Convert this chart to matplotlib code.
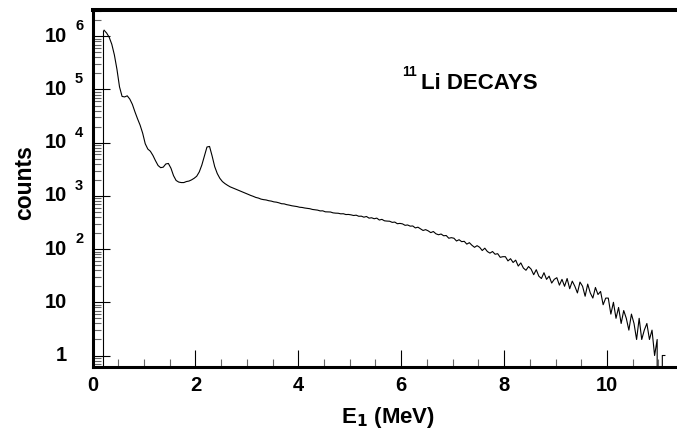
import numpy as np
import matplotlib
matplotlib.use("Agg")
import matplotlib.pyplot as plt
from matplotlib.ticker import MultipleLocator, LogLocator, NullFormatter
from matplotlib import transforms

plt.rcParams['font.family'] = ['Liberation Sans', 'DejaVu Sans']
plt.rcParams['font.weight'] = 'bold'

# ---- data: histogram of E1 (MeV), bin width 0.05 MeV starting at 0.20 MeV ----
bin_start = 0.20
bin_width = 0.05
counts = [
    # 0.20 - 1.15
    1300000, 1150000, 955000, 708000, 447000, 240000, 112000, 74000, 72500, 76000,
    66000, 52500, 38000, 28200, 21400, 15100, 9550, 7600, 6900, 5750,
    # 1.20 - 2.15
    4570, 3720, 3390, 3470, 3980, 4070, 3310, 2400, 1950, 1820,
    1780, 1780, 1860, 1900, 2000, 2140, 2340, 2820, 3800, 5620,
    # 2.20 - 3.15
    8300, 8500, 5620, 3550, 2630, 2140, 1860, 1700, 1580, 1480,
    1410, 1350, 1290, 1230, 1175, 1120, 1070, 1020, 980, 935,
    # 3.20 - 4.15
    910, 870, 850, 838, 812, 798, 772, 762, 740, 712,
    708, 684, 670, 652, 642, 630, 612, 606, 592, 582,
    # 4.20 - 5.15
    574, 556, 548, 540, 522, 524, 502, 500, 498, 480,
    474, 472, 460, 462, 446, 448, 440, 428, 434, 414,
    # 5.20 - 6.15
    416, 398, 410, 382, 388, 372, 382, 352, 362, 340,
    336, 334, 318, 322, 300, 304, 298, 280, 284, 270,
    # 6.20 - 7.15
    272, 250, 258, 240, 224, 232, 220, 204, 214, 194,
    186, 192, 178, 180, 160, 164, 160, 142, 150, 138,
    # 7.20 - 8.15
    140, 124, 132, 118, 108, 116, 108, 94, 104, 90,
    84, 90, 80, 82, 70, 72, 72, 60, 66, 56,
    # 8.20 - 9.15
    62, 48, 55, 44, 40, 47, 42, 33, 41, 31,
    28, 36, 27, 31, 23, 27, 29, 21, 27, 20,
    # 9.20 - 10.15
    28, 18, 25, 20, 15, 24, 20, 13, 22, 15,
    12, 19, 14, 16, 9, 12, 12, 6, 10, 5,
    # 10.20 - 11.10
    8, 4, 7, 5, 3, 6, 4, 2, 5, 2,
    3, 4, 2, 3, 1, 2, 0, 1, 1,
]
edges = bin_start + bin_width * np.arange(len(counts) + 1)
centers = 0.5 * (edges[:-1] + edges[1:])

x_tick_values = [0, 2, 4, 6, 8, 10]
x_tick_labels = ['0', '2', '4', '6', '8', '10']
y_tick_values = [1, 10, 1e2, 1e3, 1e4, 1e5, 1e6]
y_tick_bases = ['1', '10', '10', '10', '10', '10', '10']
y_tick_exps = ['', '', '2', '3', '4', '5', '6']

W, H = 677, 432
fig = plt.figure(figsize=(W / 100, H / 100), dpi=100)
ax = fig.add_axes([92.5 / W, 65.3 / H, 617.4 / W, 356.7 / H])

ymin, ymax = 10 ** -0.2105, 10 ** 6.494
ax.plot(centers, counts, color='black', lw=0.8)
ax.vlines(edges[0], ymin, counts[0], color='black', lw=0.8)

ax.set_yscale('log', nonpositive='clip')
ax.set_xlim(0, 12)
ax.set_ylim(ymin, ymax)

for s in ['left', 'bottom']:
    ax.spines[s].set_linewidth(2.2)
ax.spines['top'].set_linewidth(2.9)
ax.spines['right'].set_visible(False)

ax.set_xticks(x_tick_values)
ax.set_xticklabels(x_tick_labels, fontsize=14.5, fontweight='bold')
ax.xaxis.set_minor_locator(MultipleLocator(0.5))
ax.yaxis.set_major_locator(LogLocator(base=10, numticks=20))
ax.yaxis.set_minor_locator(LogLocator(base=10, subs=np.arange(2, 10), numticks=50))
ax.yaxis.set_major_formatter(NullFormatter())
ax.yaxis.set_minor_formatter(NullFormatter())
ax.tick_params(which='major', direction='in', length=12, width=0.8, color='black',
               top=False, right=False)
ax.tick_params(which='minor', direction='in', length=6, width=0.8, color='#666666',
               top=False, right=False)
ax.tick_params(axis='x', which='major', pad=7)

# y tick labels: "10" with raised exponent
trans = transforms.blended_transform_factory(fig.transFigure, ax.transData)
exp_trans = transforms.offset_copy(trans, fig=fig, x=0, y=10, units='dots')
for v, b, e in zip(y_tick_values, y_tick_bases, y_tick_exps):
    fig.text(67 / W, v, b, transform=trans, ha='right', va='center',
             fontsize=14.5, fontweight='bold')
    if e:
        fig.text(75 / W, v, e, transform=exp_trans, ha='left', va='center',
                 fontsize=10.5, fontweight='bold')

fig.text(25 / W, 1 - 182.5 / H, 'counts', rotation=90, ha='center', va='center',
         fontsize=16.5, fontweight='bold')
fig.text(388 / W, 1 - 417 / H, r'E$_{\mathbf{1}}$ (MeV)', ha='center', va='center',
         fontsize=16, fontweight='bold')

fig.text(420.7 / W, 1 - 89.3 / H, 'Li DECAYS', ha='left', va='baseline',
         fontsize=16, fontweight='bold')
fig.text(402.5 / W, 1 - 72 / H, '11', ha='left', va='center',
         fontsize=10, fontweight='bold')

fig.savefig('out.png', dpi=100)
